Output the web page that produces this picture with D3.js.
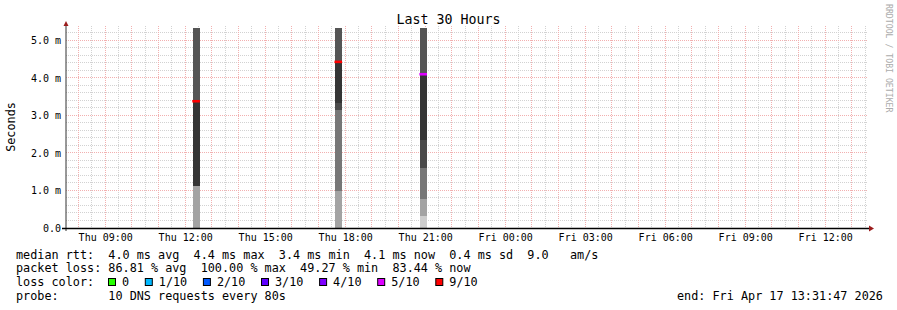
<!DOCTYPE html>
<html>
<head>
<meta charset="utf-8">
<script src="https://cdn.jsdelivr.net/npm/d3@7"></script>
<style>
body{margin:0;background:#fff}
svg{display:block}
text{font-family:"DejaVu Sans Mono",monospace;white-space:pre}
</style>
</head>
<body>
<svg width="897" height="310"></svg>
<script>
// ===== DATA =====
const title = "Last 30 Hours"
const yLabel = "Seconds"
const watermark = "RRDTOOL / TOBI OETIKER"
const endTime = "2026-04-17T13:31:47"
const spanHours = 30
const yMaxMs = 5.333

const yTicks = [0,1,2,3,4,5]
const yTickLabels = ["0.0","1.0 m","2.0 m","3.0 m","4.0 m","5.0 m"]

const xTickTimes = ["2026-04-16T09:00","2026-04-16T12:00","2026-04-16T15:00","2026-04-16T18:00","2026-04-16T21:00",
  "2026-04-17T00:00","2026-04-17T03:00","2026-04-17T06:00","2026-04-17T09:00","2026-04-17T12:00"]
const xTickLabels = ["Thu 09:00","Thu 12:00","Thu 15:00","Thu 18:00","Thu 21:00",
  "Fri 00:00","Fri 03:00","Fri 06:00","Fri 09:00","Fri 12:00"]

// smoke bars: time span, layer edges (ms), layer shade level, median + loss
const smokeStart = ["2026-04-16T12:17","2026-04-16T17:37","2026-04-16T20:48"]
const smokeEnd   = ["2026-04-16T12:33","2026-04-16T17:53","2026-04-16T21:04"]
const smokeEdges = [
  [0, 1.13, 3.38, 6],
  [0, 0.99, 3.15, 3.33, 4.43, 6],
  [0, 0.32, 0.77, 1.61, 2.35, 4.10, 6]
]
const smokeLevel = [
  [1, 4, 5],
  [1, 2, 3, 4, 5],
  [0, 1, 2, 3, 4, 5]
]
const medians = [3.38, 4.43, 4.10]
const medianLoss = ["9/10","9/10","5/10"]

const lossLabels = ["0","1/10","2/10","3/10","4/10","5/10","9/10"]
const lossColors = ["#26ff00","#00b8ff","#0059ff","#5e00ff","#7e00ff","#dd00ff","#ff0000"]

const legendRtt  = "median rtt:  4.0 ms avg  4.4 ms max  3.4 ms min  4.1 ms now  0.4 ms sd  9.0   am/s"
const legendLoss = "packet loss: 86.81 % avg  100.00 % max  49.27 % min  83.44 % now"
const legendColorTitle = "loss color:"
const legendProbe = "probe:       10 DNS requests every 80s"
const legendEnd = "end: Fri Apr 17 13:31:47 2026"

// ===== SETUP =====
const svg = d3.select("svg")
const pLeft = 66, pRight = 866, pTop = 28, pBottom = 228
const shades = ["#cdcdcd","#a3a3a3","#777777","#4a4a4a","#353535","#555555"]
const minorCol = "#d2d2d2", majorCol = "#f2b0b0", arrowCol = "#9b1c1c"
const legFont = 11.8

const tEnd = new Date(endTime)
const tStart = d3.timeHour.offset(tEnd, -spanHours)

const x = d3.scaleTime().domain([tStart,tEnd]).range([pLeft,pRight])
const y = d3.scaleLinear().domain([0,yMaxMs]).range([pBottom,pTop])
const lossColor = d3.scaleOrdinal().domain(lossLabels).range(lossColors)

const px = v => Math.floor(v)+0.5
// keep runs of spaces in monospace legend lines
const keep = s => s.replace(/ /g,"\u00a0")

// ===== GRID =====
const grid = svg.append("g")
const hourTimes = d3.timeHour.range(tStart,tEnd)
const halfTimes = d3.timeMinute.every(30).range(tStart,tEnd).filter(d=>d.getMinutes()!==0)
const minorY = d3.range(1,27).map(i=>i*0.2).filter(v=>Math.abs(v-Math.round(v))>0.01)
const majorY = yTicks.filter(v=>v>0)

grid.selectAll(".vmin").data(halfTimes).enter().append("line")
.attr("x1",d=>px(x(d))).attr("x2",d=>px(x(d)))
.attr("y1",pTop-2).attr("y2",pBottom)
.attr("stroke",minorCol).attr("stroke-dasharray","1,1")

grid.selectAll(".hmin").data(minorY).enter().append("line")
.attr("x1",pLeft).attr("x2",pRight+2)
.attr("y1",d=>px(y(d))).attr("y2",d=>px(y(d)))
.attr("stroke",minorCol).attr("stroke-dasharray","1,1")

grid.selectAll(".vmaj").data(hourTimes).enter().append("line")
.attr("x1",d=>px(x(d))).attr("x2",d=>px(x(d)))
.attr("y1",pTop-2).attr("y2",pBottom)
.attr("stroke",majorCol).attr("stroke-dasharray","1,1")

grid.selectAll(".hmaj").data(majorY).enter().append("line")
.attr("x1",pLeft).attr("x2",pRight+2)
.attr("y1",d=>px(y(d))).attr("y2",d=>px(y(d)))
.attr("stroke",majorCol).attr("stroke-dasharray","1,1")

// ===== SMOKE =====
svg.append("clipPath").attr("id","plot")
.append("rect").attr("x",pLeft).attr("y",pTop).attr("width",pRight-pLeft).attr("height",pBottom-pTop)

const smoke = svg.append("g").attr("clip-path","url(#plot)")

smokeEdges.forEach((edges,i)=>{
  const x0 = x(new Date(smokeStart[i])), x1 = x(new Date(smokeEnd[i]))
  const layers = smokeLevel[i].map((lv,j)=>({lo:edges[j],hi:edges[j+1],lv}))
  smoke.selectAll(null).data(layers).enter().append("rect")
  .attr("x",x0).attr("width",x1-x0)
  .attr("y",d=>y(d.hi)).attr("height",d=>y(d.lo)-y(d.hi))
  .attr("fill",d=>shades[d.lv])
  .attr("shape-rendering","crispEdges")

  smoke.append("line")
  .attr("x1",x0-0.5).attr("x2",x1)
  .attr("y1",y(medians[i])).attr("y2",y(medians[i]))
  .attr("stroke",lossColor(medianLoss[i]))
  .attr("stroke-width",2.6)
})

// ===== AXES =====
svg.append("g")
.attr("transform",`translate(${pLeft},0)`)
.call(d3.axisLeft(y).tickValues(yTicks).tickSize(0).tickPadding(5)
  .tickFormat((d,i)=>yTickLabels[i]))
.call(g=>g.select(".domain").remove())
.selectAll("text").attr("font-size",10).attr("font-family","DejaVu Sans Mono").attr("fill","#000")

svg.append("g")
.attr("transform",`translate(0,${pBottom})`)
.call(d3.axisBottom(x).tickValues(xTickTimes.map(t=>new Date(t))).tickSize(0).tickPadding(6)
  .tickFormat((d,i)=>xTickLabels[i]))
.call(g=>g.select(".domain").remove())
.selectAll("text").attr("font-size",10).attr("font-family","DejaVu Sans Mono").attr("fill","#000")

// axis lines
svg.append("line").attr("x1",pLeft).attr("x2",pLeft)
.attr("y1",pTop-4).attr("y2",pBottom+3).attr("stroke","#333").attr("stroke-width",1)

svg.append("line").attr("x1",pLeft-4).attr("x2",pRight+3)
.attr("y1",pBottom+0.5).attr("y2",pBottom+0.5).attr("stroke","#000").attr("stroke-width",1.4)

// arrows
svg.append("path")
.attr("d",`M${pLeft-2.5},${pTop-2}L${pLeft+2.5},${pTop-2}L${pLeft},${pTop-7}Z`)
.attr("fill",arrowCol)
svg.append("path")
.attr("d",`M${pRight+3},${pBottom-2.5}L${pRight+3},${pBottom+3.5}L${pRight+8},${pBottom+0.5}Z`)
.attr("fill",arrowCol)

// ===== TEXTS =====
svg.append("text").attr("x",448.5).attr("y",24)
.attr("text-anchor","middle").attr("font-size",13.3).text(title)

svg.append("text").attr("transform","translate(15,127) rotate(-90)")
.attr("text-anchor","middle").attr("font-size",legFont).text(yLabel)

svg.append("text").attr("transform","translate(885.5,4) rotate(90)")
.attr("font-size",8.2).attr("fill","#ababab").text(watermark)

// ===== LEGEND =====
const leg = svg.append("g").attr("font-size",legFont)
leg.append("text").attr("x",16).attr("y",258.5).text(keep(legendRtt))
leg.append("text").attr("x",16).attr("y",272.2).text(keep(legendLoss))
leg.append("text").attr("x",16).attr("y",285.9).text(keep(legendColorTitle))
leg.append("text").attr("x",16).attr("y",299.6).text(keep(legendProbe))
leg.append("text").attr("x",677).attr("y",299.6).text(keep(legendEnd))

let lx = 108.5
lossLabels.forEach((lab,i)=>{
  leg.append("rect").attr("x",lx).attr("y",278.5).attr("width",7).attr("height",7)
  .attr("fill",lossColor(lab)).attr("stroke","#000").attr("stroke-width",1)
  leg.append("text").attr("x",lx+13.5).attr("y",285.9).text(lab)
  lx += 13.5 + lab.length*7.1 + 16.2
})
</script>
</body>
</html>
